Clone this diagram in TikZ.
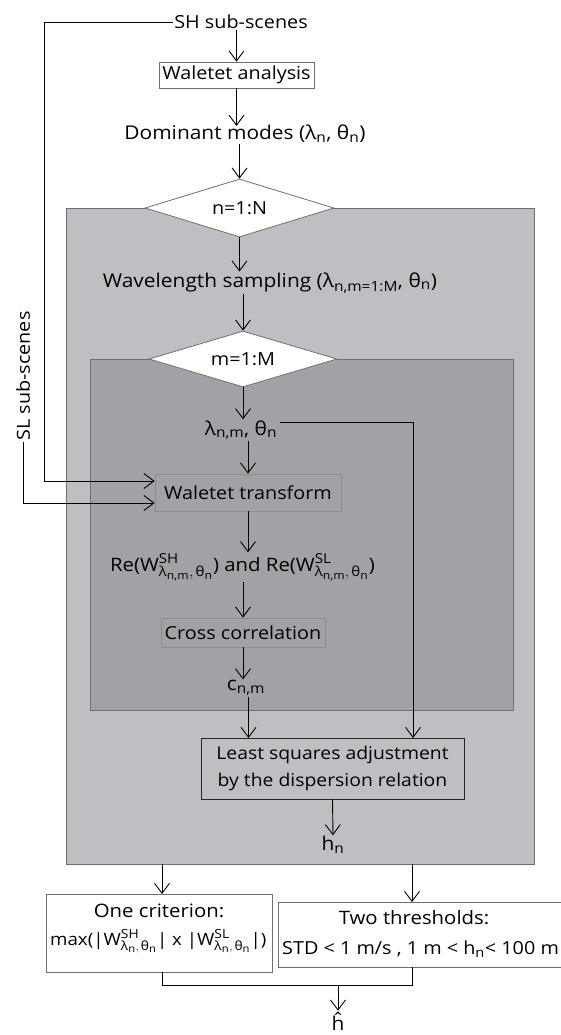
\documentclass[tikz,border=0pt]{standalone}
\usepackage{fontspec}
\usepackage{amsmath}
\setmainfont{Open Sans}[FakeStretch=1.1]
\def\defaultscriptratio{.74}
\def\defaultscriptscriptratio{.6}
\usetikzlibrary{shapes.geometric,arrows.meta}
\definecolor{outerfill}{RGB}{190,191,195}
\definecolor{innerfill}{RGB}{161,162,166}
\definecolor{boxline}{RGB}{110,110,112}
\newcommand{\tx}[1]{\text{#1}}
\newcommand{\fsz}[1]{\fontsize{#1}{#1}\selectfont}
\begin{document}
\begin{tikzpicture}[x=1pt,y=-1pt,
  font=\fsz{18},
  arr/.style={-{Straight Barb[length=10pt,width=15pt,line width=0.9pt]}, line width=0.9pt},
  ln/.style={line width=0.9pt},
  txt/.style={inner sep=1pt},
  whitebox/.style={draw=boxline, fill=white, line width=0.8pt, inner sep=0pt},
  graybox/.style={draw=boxline!80, fill=innerfill, line width=0.8pt, inner sep=0pt},
  dmd/.style={diamond, draw=boxline, fill=white, line width=0.8pt, inner sep=0pt, aspect=3}]
\useasboundingbox (0,0) rectangle (560,1035);
\fill[white] (0,0) rectangle (560,1035);
% outer and inner loop regions
\draw[fill=outerfill, draw=boxline, line width=1pt] (66,208) rectangle (534,864);
\draw[fill=innerfill, draw=boxline, line width=0.9pt] (90,359) rectangle (513,710);
% nodes
\node[txt] (sh) at (241,22) {SH sub-scenes};
\node[whitebox, minimum width=155pt, minimum height=26pt] (ana) at (236.5,75) {Waletet analysis};
\node[txt, font=\fsz{19}] (dom) at (245,134) {Dominant modes ($\tx{λ}_{\tx{n}}$, $\tx{θ}_{\tx{n}}$)};
\node[dmd, minimum width=189pt, minimum height=58pt] (d1) at (239.5,208) {n=1:N};
\node[txt, font=\fsz{19}] (wl) at (270,283) {Wavelength sampling ($\tx{λ}_{\tx{n,m=1:M}}$, $\tx{θ}_{\tx{n}}$)};
\node[dmd, minimum width=188pt, minimum height=56pt] (d2) at (243,359) {m=1:M};
\node[txt, font=\fsz{19}] (lam) at (241,430) {$\tx{λ}_{\tx{n,m}}$, $\tx{θ}_{\tx{n}}$};
\node[graybox, minimum width=186pt, minimum height=37pt] (wt) at (248,492.5) {Waletet transform};
\node[txt, font=\fsz{18.5}] (re) at (242.5,567) {Re($\tx{W}^{\tx{SH}}_{\tx{λ}_{\tx{n,m}},\,\tx{θ}_{\tx{n}}}$) and Re($\tx{W}^{\tx{SL}}_{\tx{λ}_{\tx{n,m}},\,\tx{θ}_{\tx{n}}}$)};
\node[graybox, minimum width=164pt, minimum height=29pt] (cc) at (243,632.5) {Cross correlation};
\node[txt, font=\fsz{19}] (c) at (246,688) {$\tx{c}_{\tx{n,m}}$};
\node[draw=black!85, fill=outerfill, line width=1pt, inner sep=0pt, minimum width=263pt, minimum height=61pt, align=center, font=\fontsize{17.6}{27}\selectfont] (lsa) at (332.5,768.5) {Least squares adjustment\\by the dispersion relation};
\node[txt, font=\fsz{19}] (hn) at (333,845) {$\tx{h}_{\tx{n}}$};
\node[txt, rotate=90] (sl) at (23,376) {SL sub-scenes};
% bottom boxes
\draw[whitebox] (46,894) rectangle (272,972);
\draw[whitebox] (278,902) rectangle (620,967);
\node[txt, font=\fsz{18.5}] (oc1) at (159,911) {One criterion:};
\node[txt, anchor=west, font=\fsz{17}] (oc2) at (49,941) {max(|$\tx{W}^{\tx{SH}}_{\tx{λ}_{\tx{n}},\,\tx{θ}_{\tx{n}}}$| x |$\tx{W}^{\tx{SL}}_{\tx{λ}_{\tx{n}},\,\tx{θ}_{\tx{n}}}$|)};
\node[txt, font=\fsz{18.5}] (tt1) at (414,918) {Two thresholds:};
\node[txt, anchor=west] (tt2) at (281,949) {STD < 1 m/s , 1 m < $\tx{h}_{\tx{n}}$< 100 m};
\node[txt, font=\fsz{19}] (hh) at (338,1021) {ĥ};
% coordinates
\coordinate (shL) at (44,22);
\coordinate (shD) at (44,481);
\coordinate (wtA) at (wt.west |- shD);
\coordinate (slD) at (23,503);
\coordinate (wtB) at (wt.west |- slD);
\coordinate (lamR) at (413,422);
\coordinate (lsaT) at (413,738);
\coordinate (ccT) at (248.5,738);
\coordinate (o1) at (162,864);
\coordinate (o1b) at (162,894);
\coordinate (o2) at (412,864);
\coordinate (o2b) at (412,902);
\coordinate (m1) at (162,972);
\coordinate (m2) at (162,985);
\coordinate (m3) at (412,985);
\coordinate (m4) at (412,967);
\coordinate (mh) at (338,985);
% connectors
\draw[arr] (sh.west) -- (shL) -- (shD) -- (wtA);
\draw[arr] (sl.west) -- (slD) -- (wtB);
\draw[arr] (sh.south -| ana.north) -- (ana.north);
\draw[arr] (ana.south) -- ([yshift=-2pt]dom.north -| ana.south);
\draw[arr] (dom.south -| d1.north) -- (d1.north);
\draw[arr] (d1.south) -- (wl.north -| d1.south);
\draw[arr] (wl.south -| d2.north) -- (d2.north);
\draw[arr] (d2.south) -- (lam.north -| d2.south);
\draw[arr] (lam.south -| wt.north) -- (wt.north);
\draw[ln] ([xshift=2pt]lam.east |- lamR) -- (lamR);
\draw[arr] (lamR) -- (lsaT);
\draw[arr] (wt.south) -- (re.north -| wt.south);
\draw[arr] (re.south -| cc.north) -- (cc.north);
\draw[arr] (cc.south) -- (c.north -| cc.south);
\draw[arr] (c.south -| ccT) -- (ccT);
\draw[arr] (lsa.south) -- (hn.north);
\draw[arr] (o1) -- (o1b);
\draw[arr] (o2) -- (o2b);
\draw[ln] (m1) -- (m2) -- (m3) -- (m4);
\draw[arr] (mh) -- (hh.north);
\end{tikzpicture}
\end{document}
